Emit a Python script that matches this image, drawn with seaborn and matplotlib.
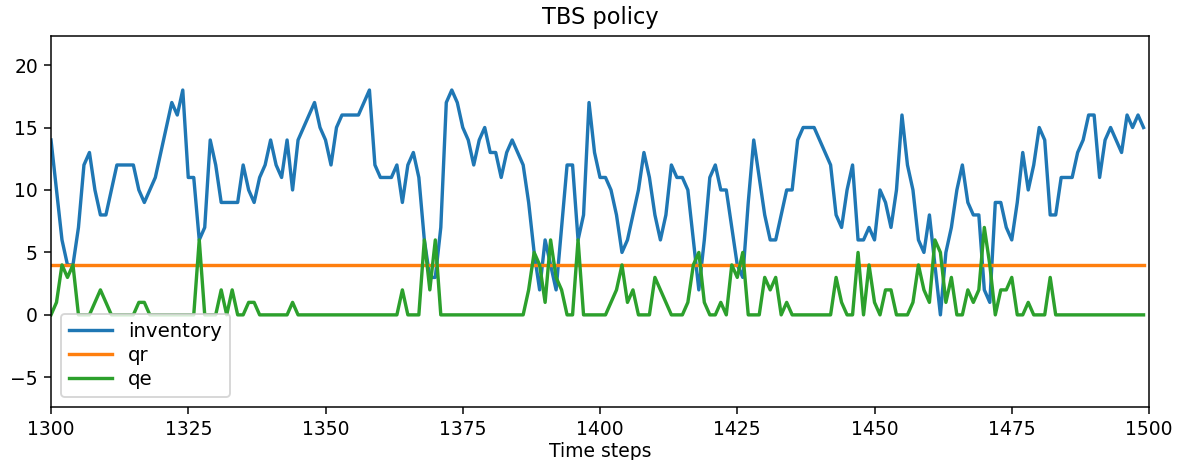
import numpy as np
import pandas as pd
import matplotlib
matplotlib.use("Agg")
import matplotlib.pyplot as plt
import seaborn as sns

# values, time steps 1300..1499
inventory = [14, 10, 6, 4, 4, 7, 12, 13, 10, 8, 8, 10, 12, 12, 12, 12, 10, 9, 10, 11,
             13, 15, 17, 16, 18, 11, 11, 6, 7, 14, 12, 9, 9, 9, 9, 12, 10, 9, 11, 12,
             14, 12, 11, 14, 10, 14, 15, 16, 17, 15, 14, 12, 15, 16, 16, 16, 16, 17, 18, 12,
             11, 11, 11, 12, 9, 12, 13, 11, 6, 3, 3, 7, 17, 18, 17, 15, 14, 12, 14, 15,
             13, 13, 11, 13, 14, 13, 12, 9, 5, 2, 6, 4, 2, 7, 12, 12, 6, 8, 17, 13,
             11, 11, 10, 8, 5, 6, 8, 10, 13, 11, 8, 6, 8, 12, 11, 11, 10, 6, 2, 6,
             11, 12, 10, 10, 7, 4, 3, 9, 14, 11, 8, 6, 6, 8, 10, 10, 14, 15, 15, 15,
             14, 13, 12, 8, 7, 10, 12, 6, 6, 7, 6, 10, 9, 7, 10, 16, 12, 10, 6, 5,
             8, 4, 0, 5, 7, 10, 12, 9, 8, 8, 2, 1, 9, 9, 7, 6, 9, 13, 10, 12,
             15, 14, 8, 8, 11, 11, 11, 13, 14, 16, 16, 11, 14, 15, 14, 13, 16, 15, 16, 15]

qe = [0, 1, 4, 3, 4, 0, 0, 0, 1, 2, 1, 0, 0, 0, 0, 0, 1, 1, 0, 0,
      0, 0, 0, 0, 0, 0, 0, 6, 0, 0, 0, 2, 0, 2, 0, 0, 1, 1, 0, 0,
      0, 0, 0, 0, 1, 0, 0, 0, 0, 0, 0, 0, 0, 0, 0, 0, 0, 0, 0, 0,
      0, 0, 0, 0, 2, 0, 0, 0, 6, 2, 6, 0, 0, 0, 0, 0, 0, 0, 0, 0,
      0, 0, 0, 0, 0, 0, 0, 2, 5, 4, 1, 6, 3, 2, 0, 0, 6, 0, 0, 0,
      0, 0, 1, 2, 4, 1, 2, 0, 0, 0, 3, 2, 1, 0, 0, 0, 1, 4, 5, 1,
      0, 0, 1, 0, 4, 3, 5, 0, 0, 0, 3, 2, 3, 0, 1, 0, 0, 0, 0, 0,
      0, 0, 0, 3, 1, 0, 0, 5, 0, 4, 1, 0, 2, 2, 0, 0, 0, 1, 4, 2,
      1, 6, 5, 1, 3, 0, 0, 2, 1, 2, 7, 4, 0, 2, 2, 3, 0, 0, 1, 0,
      0, 0, 3, 0, 0, 0, 0, 0, 0, 0, 0, 0, 0, 0, 0, 0, 0, 0, 0, 0]

qr_level = 4
steps = np.arange(1300, 1300 + len(inventory))
qr = [qr_level] * len(steps)

df = pd.DataFrame({'step': steps, 'inventory': inventory, 'qr': qr, 'qe': qe})

plt.rcParams['font.size'] = 10
fig, ax = plt.subplots(figsize=(1178 / 135, 460 / 135), dpi=135)
fig.subplots_adjust(left=0.0433, right=0.9754, top=0.9224, bottom=0.1159)

lw = 1.8
sns.lineplot(data=df, x='step', y='inventory', color='#1f77b4', label='inventory', lw=lw, ax=ax)
sns.lineplot(data=df, x='step', y='qr', color='#ff7f0e', label='qr', lw=lw, ax=ax)
sns.lineplot(data=df, x='step', y='qe', color='#2ca02c', label='qe', lw=lw, ax=ax)

ax.set_xlim(1300, 1500)
ax.set_ylim(-7.35, 22.35)
ax.set_title('TBS policy')
ax.set_xlabel('Time steps', labelpad=1.5)
ax.set_ylabel('')
ax.legend(loc='lower left', fontsize=10.5, labelspacing=0.25, handlelength=2.2)

fig.savefig('out.png', dpi=135)
